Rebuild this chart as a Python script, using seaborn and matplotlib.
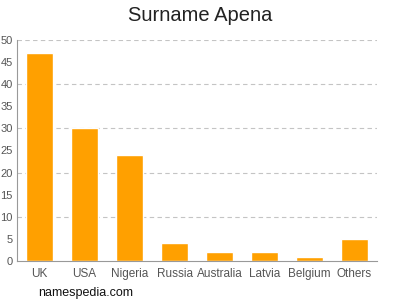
import matplotlib
matplotlib.use("Agg")
import matplotlib.pyplot as plt
import seaborn as sns
import pandas as pd

countries = ["UK", "USA", "Nigeria", "Russia", "Australia", "Latvia", "Belgium", "Others"]
counts = [47, 30, 24, 4, 2, 2, 1, 5]
y_ticks = [0, 5, 10, 15, 20, 25, 30, 35, 40, 45, 50]
grid_levels = [10, 20, 30, 40, 50]

sns.set_style("white")
plt.rcParams['font.family'] = ['Liberation Sans', 'DejaVu Sans']

df = pd.DataFrame({"country": countries, "count": counts})

fig = plt.figure(figsize=(4, 3), dpi=100)
ax = fig.add_axes([0.0425, 0.13, 0.9, 0.7367])
sns.barplot(data=df, x="country", y="count", color="#FFA000", saturation=1, width=0.6, ax=ax)

ax.set_ylim(0, 50)
ax.set_xlim(-0.5, len(countries) - 0.5)
ax.set_yticks(y_ticks)
for g in grid_levels:
    ax.axhline(g, color="#c4c4c4", linestyle=(0, (4, 3)), linewidth=0.8, zorder=0)
ax.set_axisbelow(True)
ax.set_xlabel("")
ax.set_ylabel("")
for s in ["top", "right"]:
    ax.spines[s].set_visible(False)
for s in ["left", "bottom"]:
    ax.spines[s].set_color("#999999")
    ax.spines[s].set_linewidth(0.8)
ax.tick_params(axis="x", colors="#999999", labelcolor="#555555", labelsize=8.5, length=3, width=0.8, pad=2)
ax.tick_params(axis="y", colors="#999999", labelcolor="#555555", labelsize=8, length=2.5, width=0.8, pad=0.5)
fig.suptitle("Surname Apena", fontsize=14.5, y=0.98, color="#222222")
fig.text(0.095, 0.012, "namespedia.com", fontsize=9, color="#111111")
fig.savefig("out.png", dpi=100)
